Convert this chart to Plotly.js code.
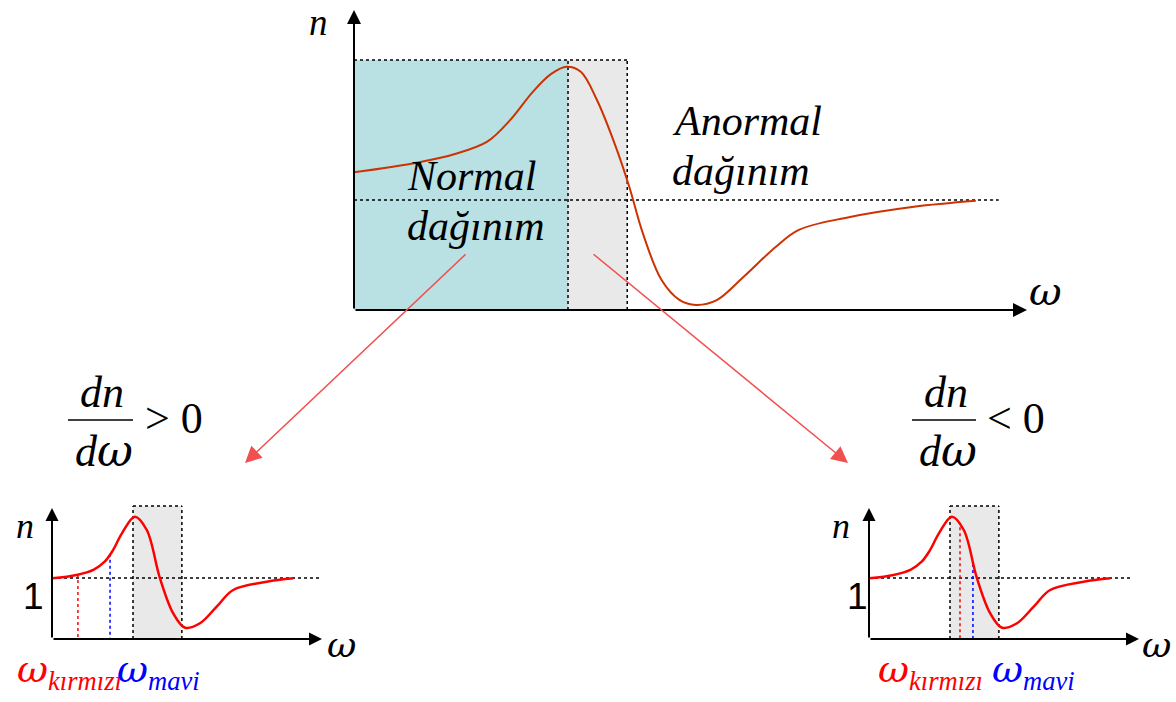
<!DOCTYPE html>
<html>
<head>
<meta charset="utf-8">
<script src="https://cdn.plot.ly/plotly-3.0.1.min.js"></script>
<style>
  html, body { margin: 0; padding: 0; background: #ffffff; }
  #chart { width: 1176px; height: 702px; }
</style>
</head>
<body>
<div id="chart"></div>
<script>
// Refractive index n(ω) across an absorption band (arbitrary units)
const mainOmega = [0.00, 0.95, 1.50, 1.98, 2.32, 2.66, 2.93, 3.16, 3.37, 3.61, 3.89, 4.09, 4.29, 4.57, 4.84, 5.08, 5.39, 5.79, 6.27, 6.61, 7.30, 8.32, 9.24];
const mainN     = [4.59, 4.92, 5.20, 5.61, 6.33, 7.28, 7.87, 8.11, 7.94, 7.00, 5.44, 4.11, 2.57, 1.00, 0.33, 0.17, 0.33, 1.11, 2.11, 2.67, 3.07, 3.44, 3.64];

// Band limits and the n = 1 level on the large diagram
const mainNormalEnd = 3.18;   // end of the normal-dispersion region
const mainBandEnd   = 4.06;   // end of the anomalous band
const mainTop       = 8.33;
const mainUnity     = 3.67;
const mainUnityEnd  = 9.58;

// Same curve on the two small diagrams
const smallOmega = [0.01, 0.91, 1.55, 1.95, 2.25, 2.60, 3.07, 3.51, 4.00, 4.49, 4.93, 5.48, 6.10, 6.71, 7.95, 8.94];
const smallN     = [4.63, 4.89, 5.30, 5.90, 6.75, 8.10, 9.34, 8.32, 4.63, 1.96, 0.86, 1.20, 2.47, 3.74, 4.37, 4.63];
const smallBand  = [3.00, 4.81];
const smallTop   = 10.15;
const smallUnity = 4.66;
const smallUnityEnd = [10.0, 9.7];

// Marked frequencies: [red, blue] for each small diagram
const markLeft  = [0.96, 2.15];
const markRight = [3.37, 3.85];
const markLeftFoot  = [-0.3, -0.6];
const markRightFoot = [-0.4, 0.0];

// Text
const txtNormal  = ['Normal', 'dağınım'];
const txtAnormal = ['Anormal', 'dağınım'];
const subRed  = 'kırmızı';
const subBlue = 'mavi';

const W = 1176, H = 702;
const px = v => v / W;
const py = v => 1 - v / H;

function interp(xs, ys, x) {
  for (let i = 0; i < xs.length - 1; i++) {
    if (x >= xs[i] && x <= xs[i + 1]) {
      const t = (x - xs[i]) / (xs[i + 1] - xs[i]);
      return ys[i] + t * (ys[i + 1] - ys[i]);
    }
  }
  return ys[ys.length - 1];
}

const serif = 'Liberation Serif, Times New Roman, serif';
const sans  = 'Liberation Sans, Arial, sans-serif';
const omega = '<span style="font-family:\'DejaVu Serif\'">ω</span>';
const dot = { color: '#000000', width: 1.5, dash: 'dot' };

const traces = [
  { x: mainOmega, y: mainN, xaxis: 'x', yaxis: 'y', mode: 'lines',
    line: { color: '#cc3300', width: 2, shape: 'spline', smoothing: 1 }, cliponaxis: false, hoverinfo: 'skip' },
  { x: smallOmega, y: smallN, xaxis: 'x2', yaxis: 'y2', mode: 'lines',
    line: { color: '#ff0000', width: 2.5, shape: 'spline', smoothing: 1 }, cliponaxis: false, hoverinfo: 'skip' },
  { x: smallOmega, y: smallN, xaxis: 'x3', yaxis: 'y3', mode: 'lines',
    line: { color: '#ff0000', width: 2.5, shape: 'spline', smoothing: 1 }, cliponaxis: false, hoverinfo: 'skip' }
];

const shapes = [];
// large diagram: regions
shapes.push({ type: 'rect', xref: 'x', yref: 'y', x0: 0, x1: mainNormalEnd, y0: 0, y1: mainTop,
  fillcolor: '#b9e0e3', line: { width: 0 }, layer: 'below' });
shapes.push({ type: 'rect', xref: 'x', yref: 'y', x0: mainNormalEnd, x1: mainBandEnd, y0: 0, y1: mainTop,
  fillcolor: '#e9e9e9', line: { width: 0 }, layer: 'below' });
shapes.push({ type: 'line', xref: 'x', yref: 'y', x0: 0, x1: mainBandEnd, y0: mainTop, y1: mainTop, line: dot, layer: 'below' });
shapes.push({ type: 'line', xref: 'x', yref: 'y', x0: 0, x1: mainBandEnd, y0: -0.06, y1: -0.06, line: dot, layer: 'below' });
shapes.push({ type: 'line', xref: 'x', yref: 'y', x0: mainNormalEnd, x1: mainNormalEnd, y0: 0, y1: mainTop, line: dot, layer: 'below' });
shapes.push({ type: 'line', xref: 'x', yref: 'y', x0: mainBandEnd, x1: mainBandEnd, y0: 0, y1: mainTop, line: dot, layer: 'below' });
shapes.push({ type: 'line', xref: 'x', yref: 'y', x0: 0, x1: mainUnityEnd, y0: mainUnity, y1: mainUnity, line: dot, layer: 'below' });

// small diagrams
[['x2', 'y2', markLeft, markLeftFoot, smallUnityEnd[0]], ['x3', 'y3', markRight, markRightFoot, smallUnityEnd[1]]].forEach(([xr, yr, marks, feet, uEnd]) => {
  shapes.push({ type: 'rect', xref: xr, yref: yr, x0: smallBand[0], x1: smallBand[1], y0: 0, y1: smallTop,
    fillcolor: '#e9e9e9', line: { width: 0 }, layer: 'below' });
  shapes.push({ type: 'line', xref: xr, yref: yr, x0: smallBand[0], x1: smallBand[1], y0: smallTop, y1: smallTop, line: dot, layer: 'below' });
  shapes.push({ type: 'line', xref: xr, yref: yr, x0: smallBand[0], x1: smallBand[0], y0: 0, y1: smallTop, line: dot, layer: 'below' });
  shapes.push({ type: 'line', xref: xr, yref: yr, x0: smallBand[1], x1: smallBand[1], y0: 0, y1: smallTop, line: dot, layer: 'below' });
  shapes.push({ type: 'line', xref: xr, yref: yr, x0: 0, x1: uEnd, y0: smallUnity, y1: smallUnity, line: dot, layer: 'below' });
  const cols = ['#ff0000', '#0000ff'];
  marks.forEach((m, i) => {
    shapes.push({ type: 'line', xref: xr, yref: yr, x0: m, x1: m, y0: feet[i], y1: interp(smallOmega, smallN, m),
      line: { color: cols[i], width: 1.5, dash: 'dot' }, layer: 'below' });
  });
});

// fraction bars
shapes.push({ type: 'line', xref: 'paper', yref: 'paper', x0: px(68), x1: px(133), y0: py(420), y1: py(420), line: { color: '#000', width: 1.6 } });
shapes.push({ type: 'line', xref: 'paper', yref: 'paper', x0: px(912), x1: px(976), y0: py(420), y1: py(420), line: { color: '#000', width: 1.6 } });

const annotations = [];
function axisArrow(xr, yr, x, y, w, size) {
  annotations.push({ xref: xr, yref: yr, axref: xr, ayref: yr, x: x, y: y, ax: 0, ay: 0, text: '',
    showarrow: true, arrowhead: 2, arrowsize: size, arrowwidth: w, arrowcolor: '#000', standoff: 0, startstandoff: 0 });
}
axisArrow('x', 'y', 0, 10, 2, 1.4);
axisArrow('x', 'y', 10, 0, 2, 1.4);
axisArrow('x2', 'y2', 0, 10, 2, 1.3);
axisArrow('x2', 'y2', 10, 0, 2, 1.3);
axisArrow('x3', 'y3', 0, 10, 2, 1.3);
axisArrow('x3', 'y3', 10, 0, 2, 1.3);

function txt(x, y, t, size, opts) {
  annotations.push(Object.assign({ xref: 'paper', yref: 'paper', x: px(x), y: py(y), text: t, showarrow: false,
    xanchor: 'left', yanchor: 'middle', font: { family: serif, size: size, color: '#000' } }, opts || {}));
}

// red pointers from the large diagram to the small ones
[[245, 463, 467, 253], [848, 463, 592, 253]].forEach(([hx, hy, tx, ty]) => {
  annotations.push({ xref: 'paper', yref: 'paper', x: px(hx), y: py(hy), axref: 'pixel', ayref: 'pixel',
    ax: tx - hx, ay: ty - hy, text: '', showarrow: true, arrowhead: 2, arrowsize: 2.2, arrowwidth: 1.5,
    arrowcolor: '#f24f4f', standoff: 0, startstandoff: 0 });
});

// axis labels
txt(307, 0, '<i>n</i>', 37, { yanchor: 'top' });
txt(1027, 291, '<i>' + omega + '</i>', 40);
txt(14, 526, '<i>n</i>', 36);
txt(830, 526, '<i>n</i>', 36);
txt(325, 644, '<i>' + omega + '</i>', 36);
txt(1140, 644, '<i>' + omega + '</i>', 36);
txt(21, 596, '1', 36, { font: { family: sans, size: 37, color: '#000' } });
txt(845, 596, '1', 36, { font: { family: sans, size: 37, color: '#000' } });

// region names
txt(405, 176, '<i>' + txtNormal[0] + '</i>', 42);
txt(405, 226, '<i>' + txtNormal[1] + '</i>', 42);
txt(670, 121, '<i>' + txtAnormal[0] + '</i>', 42);
txt(670, 171, '<i>' + txtAnormal[1] + '</i>', 42);

// derivative conditions
txt(102, 392, '<i>dn</i>', 44, { xanchor: 'center' });
txt(104, 450, '<i>d' + omega + '</i>', 44, { xanchor: 'center' });
txt(143, 418, '&gt; 0', 44);
txt(946, 392, '<i>dn</i>', 44, { xanchor: 'center' });
txt(948, 450, '<i>d' + omega + '</i>', 44, { xanchor: 'center' });
txt(985, 418, '&lt; 0', 44);

// marked frequency labels
function freqLabels(x0, gap) {
  txt(x0, 671, '<i>' + omega + '<sub>' + subRed + '</sub></i>', 38, { font: { family: serif, size: 38, color: '#ff0000' } });
  txt(x0 + gap, 671, '<i>' + omega + '<sub>' + subBlue + '</sub></i>', 38, { font: { family: serif, size: 38, color: '#0000ff' } });
}
freqLabels(15, 100);
freqLabels(876, 114);

const smallTopPx = 639 - 10.5 * 13.1;
const layout = {
  width: W, height: H,
  margin: { l: 0, r: 0, t: 0, b: 0 },
  paper_bgcolor: '#ffffff', plot_bgcolor: 'rgba(0,0,0,0)',
  showlegend: false,
  xaxis:  { domain: [px(354), px(1027)], range: [0, 10], visible: false, anchor: 'y', fixedrange: true },
  yaxis:  { domain: [py(310), py(10)], range: [0, 10], visible: false, anchor: 'x', fixedrange: true },
  xaxis2: { domain: [px(52), px(322)], range: [0, 10], visible: false, anchor: 'y2', fixedrange: true },
  yaxis2: { domain: [py(639), py(smallTopPx)], range: [0, 10.5], visible: false, anchor: 'x2', fixedrange: true },
  xaxis3: { domain: [px(869), px(1139)], range: [0, 10], visible: false, anchor: 'y3', fixedrange: true },
  yaxis3: { domain: [py(639), py(smallTopPx)], range: [0, 10.5], visible: false, anchor: 'x3', fixedrange: true },
  shapes: shapes,
  annotations: annotations
};

Plotly.newPlot('chart', traces, layout, { displayModeBar: false, staticPlot: true });
</script>
</body>
</html>
